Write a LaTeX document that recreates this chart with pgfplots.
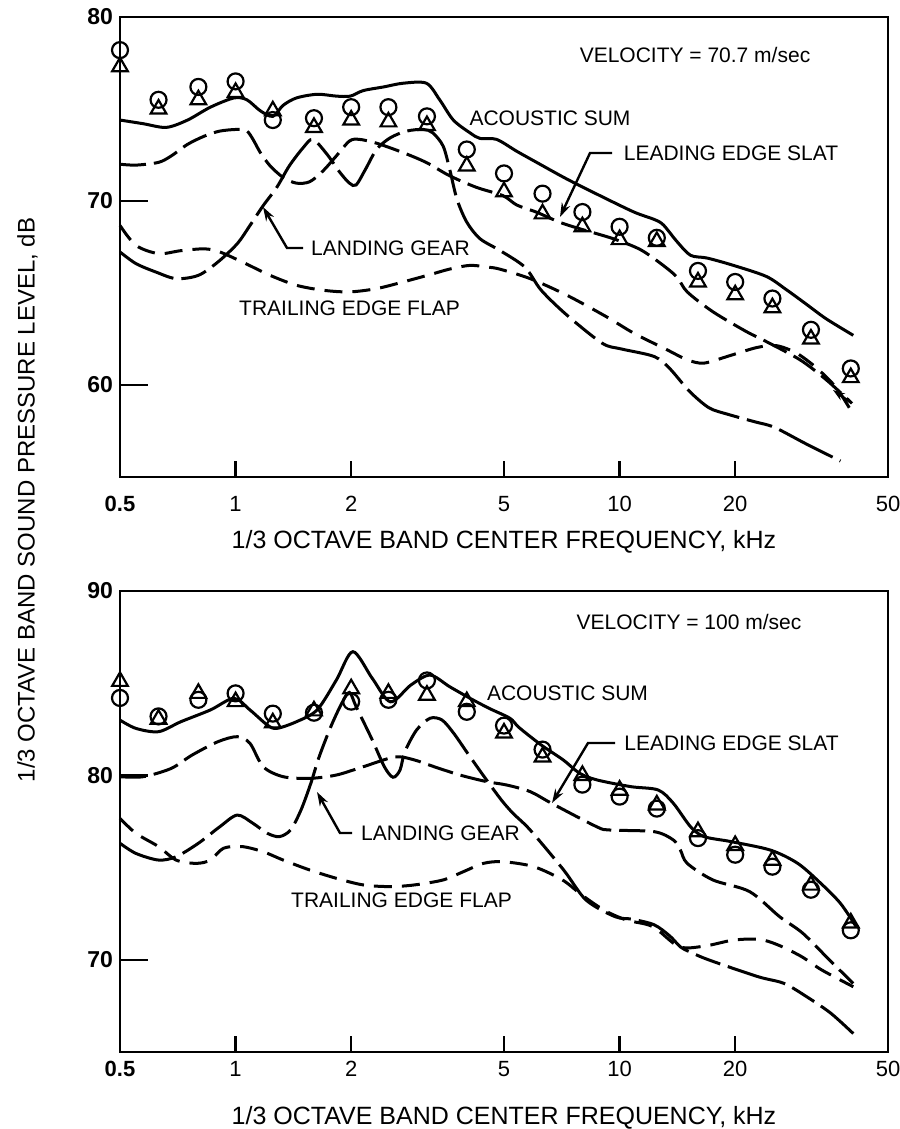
\documentclass[border=0pt]{standalone}
\usepackage{fontspec}
\setmainfont{Liberation Sans}
\usepackage{pgfplots}
\pgfplotsset{compat=1.18}
\usetikzlibrary{arrows.meta}
\pgfplotsset{
  sumline/.style={black, line width=1.5pt, smooth, tension=0.5, mark=none},
  slatline/.style={black, line width=1.5pt, smooth, tension=0.5, dash pattern=on 13pt off 4pt, mark=none},
  gearline/.style={black, line width=1.5pt, smooth, tension=0.5, dash pattern=on 30pt off 4pt on 13pt off 4pt, mark=none},
  flapline/.style={black, line width=1.5pt, smooth, tension=0.5, dash pattern=on 9pt off 5pt, mark=none},
  circ/.style={black, only marks, mark=o, mark size=4pt, mark options={solid, line width=1.1pt}},
  tri/.style={black, only marks, mark=triangle, mark size=4.5pt, mark options={solid, line width=1.1pt}},
}
\tikzset{lab/.style={font=\fontsize{10.5}{12}\selectfont, inner sep=0pt, anchor=center},
  lead/.style={line width=1.2pt, -{Stealth[length=7pt,width=4.5pt]}}}
\begin{document}
\begin{tikzpicture}
\path[use as bounding box] (0,0) rectangle (449.5pt,-564.5pt);
% ---------------- top panel ----------------
\begin{axis}[scale only axis, width=384pt, height=230pt,
  at={(60pt,-8.5pt)}, anchor=north west,
  xmode=log, xmin=0.5, xmax=50, ymin=55, ymax=80,
  xtick={0.5,1,2,5,10,20,50},
  xticklabels={\textbf{0.5},1,2,5,10,20,50},
  ytick={60,70,80},
  minor xtick={}, minor ytick={},
  tick align=inside, tick pos=left,
  axis line style={line width=1.4pt},
  xtick style={line width=1.3pt, black, /pgfplots/major tick length=8pt},
  ytick style={line width=1.3pt, black, /pgfplots/major tick length=14pt},
  xticklabel style={font=\fontsize{11}{13}\selectfont, yshift=-6pt},
  yticklabel style={font=\fontsize{11.5}{13}\selectfont\bfseries},
  yticklabel={\pgfmathprintnumber[assume math mode=true]{\tick}},
  clip=false]
\addplot[sumline] coordinates {(0.50,74.4)(0.575,74.2)(0.66,74.0)(0.75,74.4)(0.86,75.1)(0.99,75.6)(1.07,75.5)(1.16,74.9)(1.25,74.6)(1.33,75.2)(1.44,75.6)(1.63,75.8)(1.83,75.7)(1.99,75.7)(2.15,76.0)(2.43,76.2)(2.73,76.4)(3.14,76.4)(3.40,75.5)(3.69,74.4)(4.08,73.7)(4.33,73.4)(4.78,73.35)(5.40,72.7)(6.08,72.1)(7.28,71.2)(8.87,70.3)(10.9,69.4)(12.3,69.0)(13.0,68.7)(14.1,67.8)(15.3,67.05)(16.9,66.9)(19.8,66.5)(24.1,65.9)(27.1,65.2)(30.6,64.4)(34.5,63.6)(40.6,62.7)};
\addplot[slatline] coordinates {(0.50,72.0)(0.55,71.95)(0.63,72.1)(0.68,72.45)(0.75,73.08)(0.83,73.53)(0.91,73.8)(1.01,73.89)(1.07,73.8)(1.11,73.35)(1.16,72.63)(1.23,71.91)(1.33,71.28)(1.44,70.97)(1.56,71.05)(1.69,71.64)(1.83,72.45)(1.98,73.26)(2.10,73.35)(2.33,73.14)(2.73,72.63)(3.14,72.09)(3.61,71.37)(4.24,70.74)(4.97,70.29)(5.40,69.78)(6.08,69.39)(6.97,68.85)(7.88,68.49)(9.63,67.95)(11.3,67.37)(12.8,66.6)(14.1,65.87)(15.0,65.06)(17.5,63.98)(21.4,62.9)(24.1,62.36)(29.5,61.37)(34.5,60.29)(40.3,59.0)};
\addplot[gearline] coordinates {(0.50,67.23)(0.55,66.6)(0.62,66.14)(0.70,65.78)(0.80,65.96)(0.90,66.69)(1.01,67.68)(1.09,68.67)(1.18,69.75)(1.28,70.74)(1.38,71.91)(1.50,72.9)(1.59,73.35)(1.73,72.54)(1.87,71.55)(1.98,70.97)(2.06,70.87)(2.18,71.73)(2.33,72.81)(2.53,73.44)(2.79,73.8)(3.08,73.89)(3.26,73.71)(3.47,72.99)(3.61,71.73)(3.77,70.11)(4.0,68.85)(4.33,67.95)(4.89,67.3)(5.67,66.4)(6.25,65.15)(7.29,63.8)(9.01,62.27)(10.1,61.96)(12.3,61.55)(13.5,60.9)(15.2,59.66)(17.1,58.76)(19.2,58.4)(22.5,58.0)(25.3,57.7)(30.6,56.8)(37.6,55.87)};
\addplot[flapline] coordinates {(0.50,68.67)(0.55,67.59)(0.63,67.14)(0.72,67.3)(0.83,67.4)(0.91,67.23)(1.04,66.69)(1.23,65.96)(1.44,65.42)(1.69,65.15)(1.98,65.06)(2.33,65.24)(2.73,65.6)(3.21,66.0)(3.61,66.3)(4.08,66.5)(4.57,66.4)(4.89,66.29)(5.85,65.78)(7.29,64.88)(9.24,63.71)(10.9,62.81)(13.3,61.91)(15.0,61.37)(16.6,61.19)(19.4,61.6)(22.8,62.04)(25.6,62.14)(28.9,61.73)(32.6,60.92)(36.7,59.84)(40.6,58.4)};
\addplot[circ] coordinates {(0.5,78.2)(0.63,75.5)(0.8,76.2)(1.0,76.5)(1.25,74.4)(1.6,74.5)(2.0,75.1)(2.5,75.1)(3.15,74.6)(4.0,72.8)(5.0,71.5)(6.3,70.4)(8.0,69.4)(10,68.6)(12.5,68.0)(16,66.2)(20,65.6)(25,64.7)(31.5,63.0)(40,60.9)};
\addplot[tri] coordinates {(0.5,77.3)(0.63,75.0)(0.8,75.5)(1.0,75.9)(1.25,74.9)(1.6,74.0)(2.0,74.4)(2.5,74.3)(3.15,74.1)(4.0,71.9)(5.0,70.5)(6.3,69.3)(8.0,68.6)(10,67.9)(12.5,67.8)(16,65.6)(20,64.9)(25,64.2)(31.5,62.5)(40,60.4)};
\end{axis}
% ---------------- bottom panel ----------------
\begin{axis}[scale only axis, width=384pt, height=230.5pt,
  at={(60pt,-295.5pt)}, anchor=north west,
  xmode=log, xmin=0.5, xmax=50, ymin=65, ymax=90,
  xtick={0.5,1,2,5,10,20,50},
  xticklabels={\textbf{0.5},1,2,5,10,20,50},
  ytick={70,80,90},
  minor xtick={}, minor ytick={},
  tick align=inside, tick pos=left,
  axis line style={line width=1.4pt},
  xtick style={line width=1.3pt, black, /pgfplots/major tick length=8pt},
  ytick style={line width=1.3pt, black, /pgfplots/major tick length=14pt},
  xticklabel style={font=\fontsize{11}{13}\selectfont, yshift=-1pt},
  yticklabel style={font=\fontsize{11.5}{13}\selectfont\bfseries},
  yticklabel={\pgfmathprintnumber[assume math mode=true]{\tick}},
  clip=false]
\addplot[sumline] coordinates {(0.50,83.0)(0.55,82.55)(0.63,82.37)(0.72,82.91)(0.86,83.55)(0.99,84.18)(1.09,83.55)(1.21,82.73)(1.28,82.55)(1.44,82.91)(1.63,83.55)(1.83,85.17)(2.02,86.71)(2.27,85.26)(2.53,83.99)(2.86,84.9)(3.21,85.44)(3.61,84.81)(4.08,84.18)(4.57,83.64)(5.18,83.1)(5.47,82.6)(6.25,81.65)(7.13,80.84)(7.88,80.11)(8.75,79.75)(10.7,79.39)(12.6,79.21)(13.8,78.49)(15.3,77.22)(16.6,76.68)(19.5,76.41)(24.7,75.95)(29.1,75.23)(33.4,74.15)(37.6,73.06)(41.3,71.8)};
\addplot[slatline] coordinates {(0.50,79.93)(0.575,79.93)(0.68,80.38)(0.77,81.1)(0.90,81.83)(1.01,82.1)(1.09,81.74)(1.18,80.47)(1.33,79.93)(1.56,79.84)(1.83,80.02)(2.15,80.47)(2.60,81.0)(2.92,80.84)(3.29,80.47)(3.84,80.02)(4.51,79.66)(5.08,79.48)(5.85,79.12)(6.66,78.48)(8.71,77.22)(9.42,77.04)(12.3,76.95)(13.8,76.5)(14.4,75.95)(15.0,75.23)(17.5,74.33)(21.8,73.7)(26.1,72.34)(30.0,71.44)(35.2,69.99)(40.6,68.72)};
\addplot[gearline] coordinates {(0.50,76.32)(0.55,75.77)(0.63,75.41)(0.70,75.59)(0.80,76.32)(0.91,77.22)(1.01,77.85)(1.11,77.4)(1.21,76.86)(1.30,76.68)(1.39,77.04)(1.48,78.12)(1.57,79.57)(1.65,81.0)(1.77,82.64)(1.89,83.91)(1.98,84.5)(2.06,83.73)(2.27,81.92)(2.44,80.47)(2.57,79.9)(2.68,80.29)(2.76,81.29)(2.96,82.46)(3.21,83.1)(3.45,83.0)(3.70,82.28)(4.02,81.2)(4.44,79.93)(4.92,78.67)(5.28,77.94)(5.85,77.04)(7.15,74.87)(8.18,73.24)(9.73,72.34)(10.8,72.2)(12.3,71.9)(13.5,71.3)(14.4,70.7)(15.2,70.44)(17.1,69.99)(22.9,69.09)(26.8,68.72)(30.8,67.98)(35.5,67.1)(40.6,66.0)};
\addplot[flapline] coordinates {(0.50,77.67)(0.55,76.86)(0.63,76.14)(0.70,75.41)(0.79,75.23)(0.86,75.41)(0.93,76.05)(1.04,76.14)(1.18,75.86)(1.33,75.41)(1.56,74.87)(1.83,74.42)(2.15,74.06)(2.53,73.97)(2.92,74.06)(3.47,74.33)(3.92,74.78)(4.42,75.23)(4.97,75.32)(5.98,75.05)(7.1,74.33)(7.98,73.51)(9.1,72.7)(10.4,72.16)(12.2,71.8)(14.3,70.71)(16.7,70.75)(19.8,71.07)(23.1,71.11)(25.9,70.8)(29.8,70.17)(33.6,69.45)(40.6,68.54)};
\addplot[circ] coordinates {(0.5,84.2)(0.63,83.2)(0.8,84.1)(1.0,84.45)(1.25,83.35)(1.6,83.4)(2.0,84.0)(2.5,84.1)(3.15,85.15)(4.0,83.45)(5.0,82.7)(6.3,81.4)(8.0,79.5)(10,78.85)(12.5,78.2)(16,76.6)(20,75.7)(25,75.05)(31.5,73.8)(40,71.6)};
\addplot[tri] coordinates {(0.5,85.1)(0.63,83.05)(0.8,84.45)(1.0,84.0)(1.25,82.85)(1.6,83.5)(2.0,84.7)(2.5,84.45)(3.15,84.35)(4.0,84.0)(5.0,82.3)(6.3,81.0)(8.0,80.0)(10,79.2)(12.5,78.4)(16,76.95)(20,76.2)(25,75.4)(31.5,74.05)(40,72.0)};
\end{axis}
% ---------------- annotations ----------------
\node[lab] at (347.5pt,-27.5pt) {VELOCITY = 70.7 m/sec};
\node[lab] at (275pt,-59pt) {ACOUSTIC SUM};
\node[lab] at (365.5pt,-76.5pt) {LEADING EDGE SLAT};
\draw[lead] (306pt,-76.5pt) -- (295pt,-76.5pt) -- (280pt,-108.5pt);
\node[lab] at (195.25pt,-124pt) {LANDING GEAR};
\draw[lead] (151.5pt,-124pt) -- (143.5pt,-124pt) -- (131.5pt,-103.5pt);
\node[lab] at (174.75pt,-154pt) {TRAILING EDGE FLAP};
\draw[line width=1.2pt, -{Stealth[length=6pt,width=4pt]}] (425pt,-201pt) -- (416.5pt,-195pt);
\node[lab] at (344.5pt,-311pt) {VELOCITY = 100 m/sec};
\node[lab] at (283.75pt,-346.5pt) {ACOUSTIC SUM};
\node[lab] at (365.75pt,-371.5pt) {LEADING EDGE SLAT};
\draw[lead] (307.5pt,-371.5pt) -- (294pt,-371.5pt) -- (276pt,-401.5pt);
\node[lab] at (220.25pt,-416.5pt) {LANDING GEAR};
\draw[lead] (176pt,-416.5pt) -- (170pt,-416.5pt) -- (158.5pt,-396pt);
\node[lab] at (200.75pt,-450pt) {TRAILING EDGE FLAP};
% axis labels
\node[anchor=base, font=\fontsize{12.5}{14}\selectfont, inner sep=0pt] at (252pt,-274.25pt) {1/3 OCTAVE BAND CENTER FREQUENCY, kHz};
\node[anchor=base, font=\fontsize{12.5}{14}\selectfont, inner sep=0pt] at (252pt,-562pt) {1/3 OCTAVE BAND CENTER FREQUENCY, kHz};
\node[rotate=90, font=\fontsize{12}{14}\selectfont, inner sep=0pt] at (13.75pt,-250pt) {1/3 OCTAVE BAND SOUND PRESSURE LEVEL, dB};
\end{tikzpicture}
\end{document}
